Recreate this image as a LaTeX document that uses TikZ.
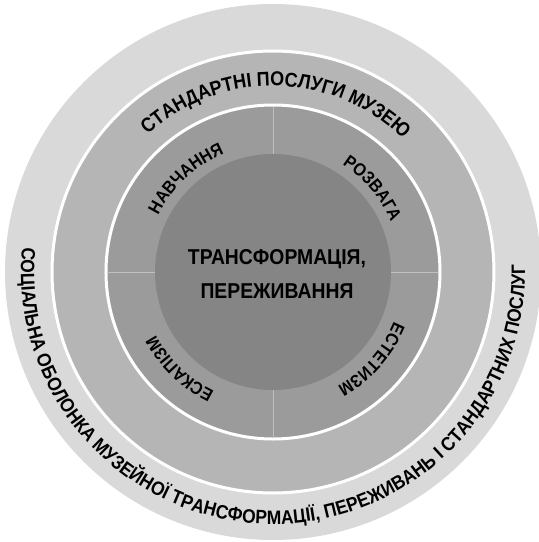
\documentclass[tikz,border=0pt]{standalone}
\usepackage{fontspec}
\setmainfont{Liberation Sans}[FakeStretch=0.9]
\usetikzlibrary{decorations.text}

\definecolor{shellgray}{RGB}{217,217,217}
\definecolor{bandgray}{RGB}{181,181,181}
\definecolor{sectorgray}{RGB}{155,155,155}
\definecolor{coregray}{RGB}{133,133,133}
\definecolor{dividergray}{RGB}{192,192,192}

\newcommand{\shellfont}{\fontsize{19.4}{19.4}\selectfont\bfseries}
\newcommand{\bandfont}{\fontsize{20}{20}\selectfont\bfseries}
\newcommand{\sectorfont}{\fontsize{17.8}{17.8}\selectfont\bfseries}

\begin{document}
\begin{tikzpicture}[x=1pt, y=1pt,
  ringtext/.style 2 args={decorate, decoration={text along path,
    text align=center, text={|#1|#2}}},
  divider/.style={dividergray, line width=0.8pt}]
\useasboundingbox (-273,-270) rectangle (266,272);
% rings, outside in
\fill[shellgray] (0,0) circle (268);
\filldraw[fill=bandgray, draw=white, line width=3pt] (0,0) circle (221);
\filldraw[fill=sectorgray, draw=white, line width=3pt] (0,0) circle (167);
% quarter lines of the sector ring
\foreach \a in {0,90,180,270}
  \draw[divider] (\a:118) -- (\a:165.5);
\fill[coregray] (0,0) circle (118);
\node[font=\fontsize{21.5}{34}\selectfont\bfseries, align=center] (core) at (4,-2)
  {ТРАНСФОРМАЦІЯ,\\ПЕРЕЖИВАННЯ};
% labels along the rings
\path[ringtext={\bandfont}{СТАНДАРТНІ ПОСЛУГИ МУЗЕЮ}]
  (179:186) arc[start angle=179, end angle=-1, radius=186];
\path[ringtext={\shellfont}{СОЦІАЛЬНА ОБОЛОНКА МУЗЕЙНОЇ ТРАНСФОРМАЦІЇ, ПЕРЕЖИВАНЬ І СТАНДАРТНИХ ПОСЛУГ}]
  (118:252) arc[start angle=118, end angle=418, radius=252];
\path[ringtext={\sectorfont}{НАВЧАННЯ}]
  (178:128) arc[start angle=178, end angle=88, radius=128];
\path[ringtext={\sectorfont}{РОЗВАГА}]
  (85:128) arc[start angle=85, end angle=-5, radius=128];
\path[ringtext={\sectorfont}{ЕСКАПІЗМ}]
  (271:133) arc[start angle=271, end angle=181, radius=133];
\path[ringtext={\sectorfont}{ЕСТЕТИЗМ}]
  (3.5:131) arc[start angle=3.5, end angle=-86.5, radius=131];
\end{tikzpicture}
\end{document}
